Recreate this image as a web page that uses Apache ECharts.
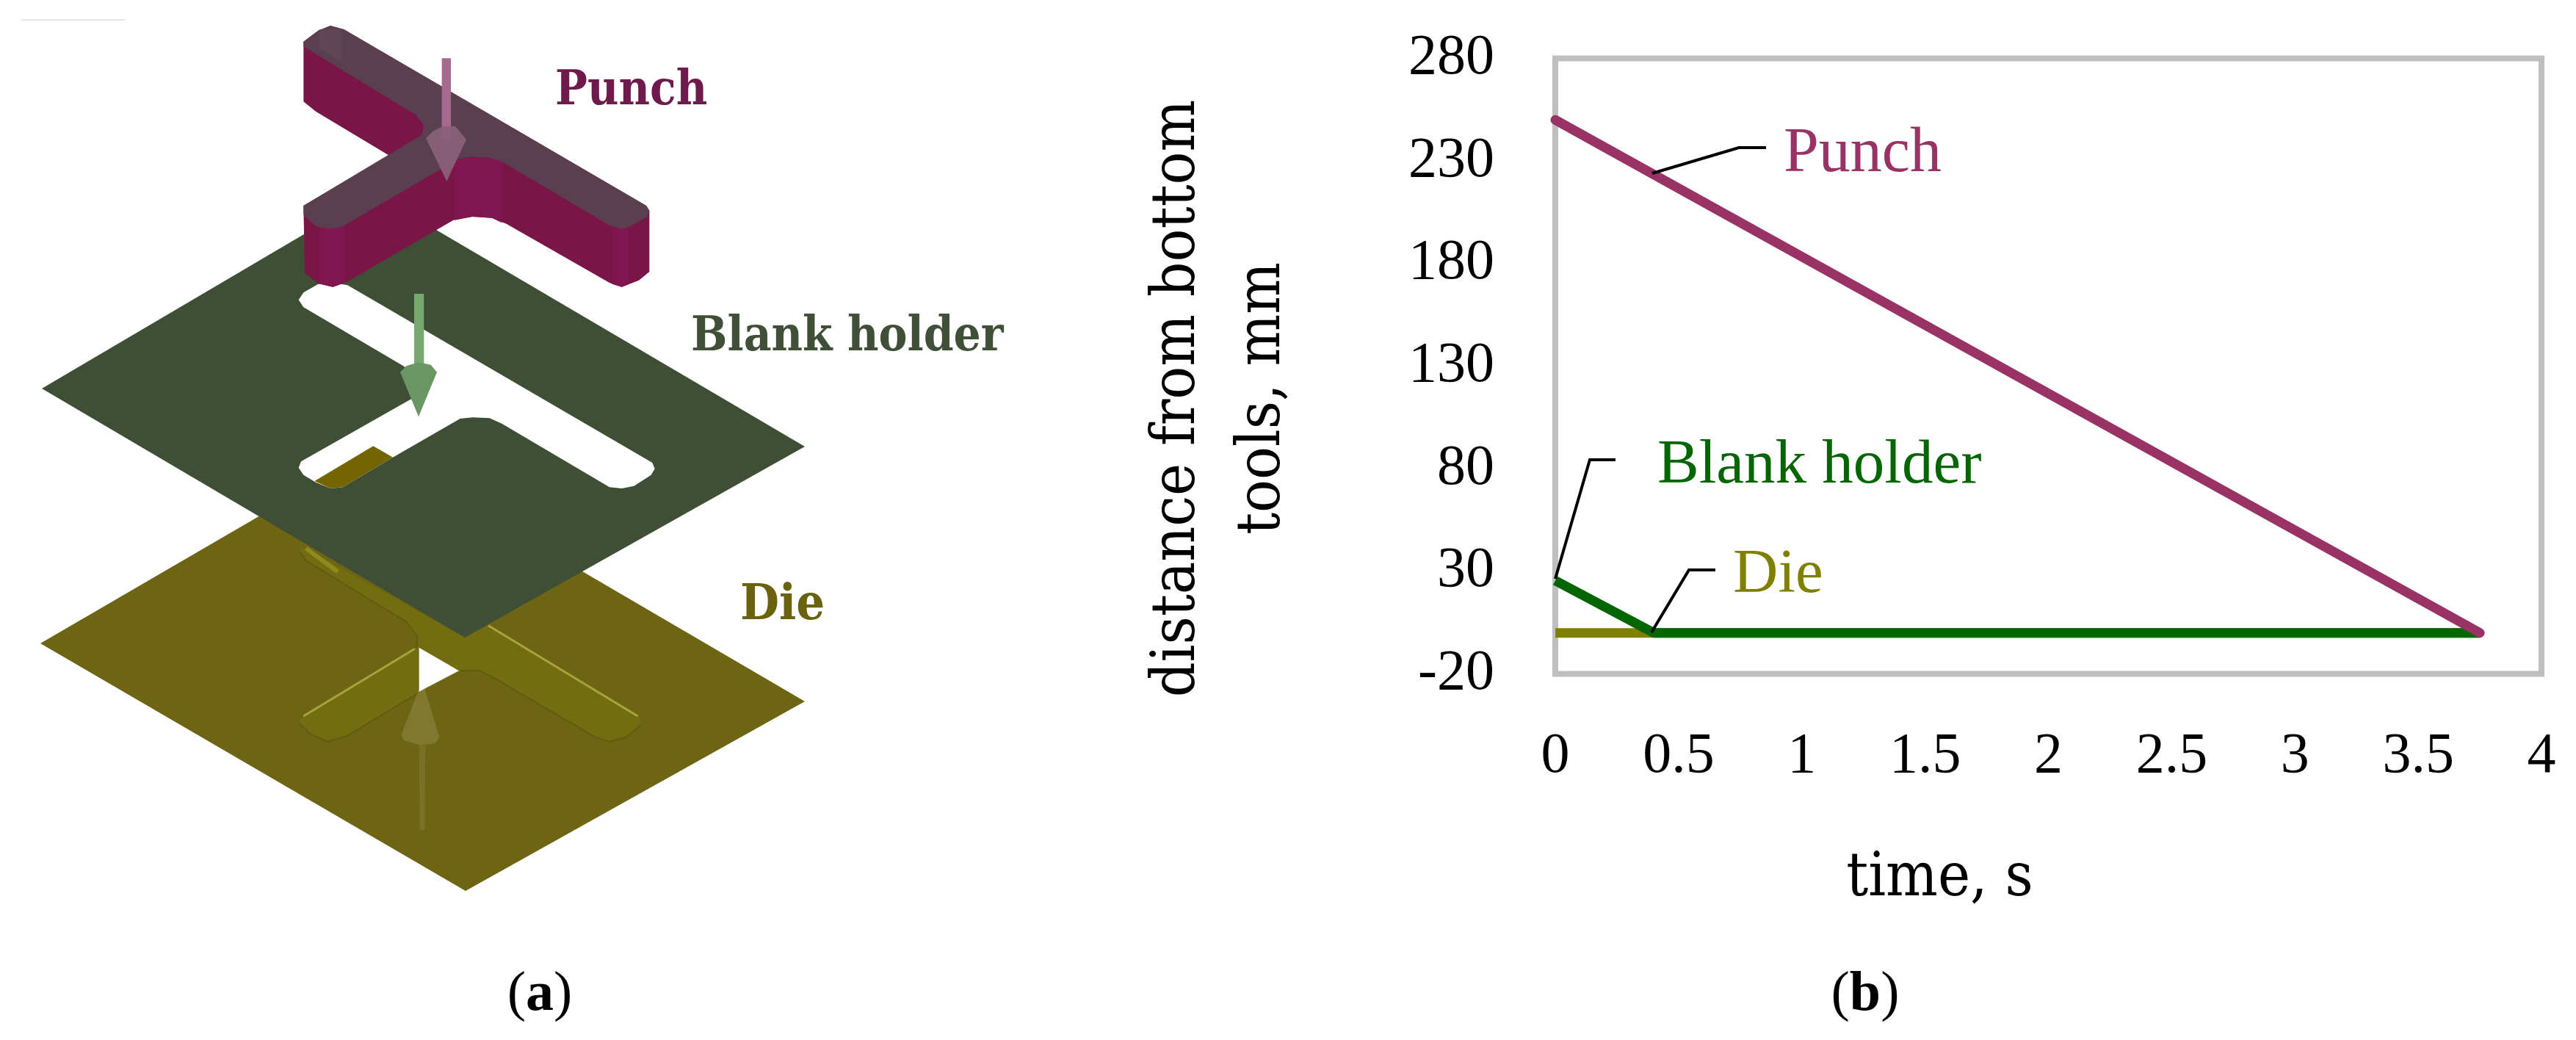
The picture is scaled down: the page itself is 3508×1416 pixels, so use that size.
<!DOCTYPE html>
<html>
<head>
<meta charset="utf-8">
<title>Punch, blank holder and die</title>
<script src="https://cdn.jsdelivr.net/npm/echarts@6/dist/echarts.min.js"></script>
<style>
  html, body { margin: 0; padding: 0; background: #fff; }
  #chart { width: 3508px; height: 1416px; }
</style>
</head>
<body>
<div id="chart"></div>
<script>
// values
const punchTime = [0, 3.75]
const punchDist = [250, 0]
const blankTime = [0, 0.4, 3.75]
const blankDist = [25.5, 0, 0]
const dieTime = [0, 3.75]
const dieDist = [0, 0]
const yTicks = [-20, 30, 80, 130, 180, 230, 280]
const xTicks = [0, 0.5, 1, 1.5, 2, 2.5, 3, 3.5, 4]

const PUNCH = '#993366'
const BLANK = '#036603'
const DIE = '#808000'
const SERIF = '"Liberation Serif", serif'
const WIDE = '"DejaVu Serif Condensed", "DejaVu Serif", serif'

const pairs = (xs, ys) => xs.map((x, i) => [x, ys[i]])

// crop-space points (3x zoom) back to page pixels
const crop = (ox, oy, pts) => pts.map((p) => [ox + p[0] / 3, oy + p[1] / 3])

const poly = (points, fill, opacity) => ({
  type: 'polygon',
  silent: true,
  shape: { points },
  style: { fill, opacity: opacity === undefined ? 1 : opacity }
})

const stroke = (points, color, width, opacity) => ({
  type: 'polyline',
  silent: true,
  shape: { points },
  style: { stroke: color, lineWidth: width, fill: 'none', opacity: opacity === undefined ? 1 : opacity }
})

const label = (text, x, y, size, color, font, weight) => ({
  type: 'text',
  silent: true,
  x,
  y,
  style: {
    text,
    fill: color,
    fontSize: size,
    fontFamily: font,
    fontWeight: weight || 'normal',
    align: 'left',
    verticalAlign: 'middle'
  }
})

// (a) / (b) captions, the letter is bold
const caption = (letter, x) => ({
  type: 'text',
  silent: true,
  x,
  y: 1355,
  style: {
    text: '{r|(}{b|' + letter + '}{r|)}',
    align: 'center',
    verticalAlign: 'middle',
    rich: {
      r: { fontFamily: SERIF, fontSize: 76, fill: '#000' },
      b: { fontFamily: SERIF, fontSize: 76, fontWeight: 'bold', fill: '#000' }
    }
  }
})

// panel (a): the 3D sketch of the tools
const die = [
  poly([[55, 876], [509, 612], [1096, 955], [634, 1213]], '#6e6514'),
  poly(crop(380, 700, [[90, 130], [760, 505], [850, 455], [1470, 820], [1480, 860], [1420, 910], [1350, 930], [1290, 910], [880, 670], [820, 640], [740, 640], [570, 730], [280, 905], [200, 930], [130, 900], [80, 850], [100, 820], [560, 550], [565, 500], [520, 440], [110, 190], [85, 155]]), '#736d12'),
  stroke(crop(380, 700, [[85, 155], [110, 190], [520, 440], [565, 500], [562, 545]]), '#625a10', 2),
  stroke(crop(380, 700, [[80, 850], [130, 900], [200, 930], [280, 905], [570, 730]]), '#625a10', 2),
  stroke(crop(380, 700, [[740, 640], [820, 640], [880, 670], [1290, 910], [1350, 930], [1420, 910], [1480, 860]]), '#625a10', 2),
  stroke(crop(380, 700, [[100, 825], [555, 550]]), '#a8a33c', 3),
  stroke(crop(380, 700, [[855, 455], [1465, 825]]), '#a8a33c', 3),
  stroke(crop(380, 700, [[110, 140], [240, 235]]), '#8d8a1e', 6),
  poly(crop(380, 700, [[585, 680], [655, 910], [640, 935], [580, 945], [510, 925], [500, 900]]), '#8a8640', 0.6),
  poly(crop(380, 700, [[572, 945], [598, 945], [595, 1290], [575, 1290]]), '#8a8640', 0.4),
  poly(crop(380, 700, [[572, 545], [735, 640], [600, 710], [572, 725]]), '#ffffff')
]

const blank = [
  poly([[57, 529], [509, 263], [1096, 608], [633, 868]], '#3f4f36'),
  poly(crop(390, 380, [[50, 85], [70, 55], [130, 20], [190, 15], [250, 25], [1495, 750], [1505, 775], [1490, 800], [1420, 845], [1370, 855], [1320, 850], [880, 590], [830, 568], [760, 565], [710, 570], [435, 728], [230, 850], [180, 855], [120, 830], [70, 800], [50, 770], [60, 745], [510, 490], [535, 430], [510, 375], [470, 350], [70, 115]]), '#ffffff'),
  poly(crop(390, 380, [[115, 825], [355, 682], [435, 728], [230, 850], [180, 855]]), '#746500'),
  poly(crop(390, 380, [[522, 60], [562, 60], [562, 360], [522, 360]]), '#76a870'),
  poly(crop(390, 380, [[465, 380], [490, 355], [540, 340], [590, 350], [615, 380], [540, 562]]), '#6a9663')
]

const punch = [
  poly(crop(390, 20, [[70, 110], [130, 65], [180, 45], [235, 60], [1470, 780], [1483, 800], [1483, 1050], [1440, 1085], [1370, 1112], [1320, 1095], [900, 855], [840, 830], [760, 825], [690, 835], [620, 875], [250, 1090], [190, 1112], [130, 1098], [75, 1055], [70, 780], [420, 575], [120, 395], [70, 355]]), '#7a1548'),
  poly(crop(390, 20, [[685, 600], [760, 580], [830, 585], [880, 600], [880, 850], [840, 830], [760, 825], [685, 840]]), '#801650'),
  poly(crop(390, 20, [[130, 860], [180, 875], [240, 860], [240, 1095], [190, 1112], [130, 1098]]), '#801650'),
  poly(crop(390, 20, [[1330, 860], [1370, 875], [1400, 868], [1400, 1100], [1370, 1112], [1330, 1100]]), '#801650'),
  poly(crop(390, 20, [[70, 110], [130, 65], [180, 45], [235, 60], [1470, 780], [1483, 800], [1475, 825], [1400, 868], [1370, 875], [1320, 860], [880, 600], [830, 585], [760, 580], [700, 590], [230, 865], [180, 875], [120, 865], [70, 815], [70, 780], [555, 490], [560, 450], [530, 410], [70, 130]]), '#5a3f4e'),
  poly(crop(390, 20, [[135, 60], [225, 60], [225, 190], [135, 140]]), '#604556'),
  poly(crop(390, 20, [[635, 178], [672, 178], [672, 510], [635, 510]]), '#a76a8f'),
  poly(crop(390, 20, [[570, 505], [600, 475], [640, 455], [690, 455], [735, 510], [655, 680]]), '#8a6079', 0.95)
]

const chart = echarts.init(document.getElementById('chart'), null, { renderer: 'canvas' })

chart.setOption({
  animation: false,
  backgroundColor: '#ffffff',
  grid: {
    left: 2118,
    top: 79.5,
    width: 1343,
    height: 838,
    show: true,
    backgroundColor: '#ffffff',
    borderColor: '#bfbfbf',
    borderWidth: 8
  },
  xAxis: {
    type: 'value',
    min: 0,
    max: 4,
    interval: 0.5,
    name: 'time, s',
    nameLocation: 'middle',
    nameGap: 238,
    nameTextStyle: { fontFamily: WIDE, fontSize: 83, color: '#000', padding: [0, 296, 0, 0] },
    axisLine: { show: false },
    axisTick: { show: false },
    splitLine: { show: false },
    axisLabel: {
      margin: 74,
      fontFamily: SERIF,
      fontSize: 78,
      color: '#000',
      hideOverlap: false,
      showMinLabel: true,
      showMaxLabel: true,
      customValues: xTicks
    }
  },
  yAxis: {
    type: 'value',
    min: -20,
    max: 280,
    name: 'distance from bottom\ntools, mm',
    nameLocation: 'middle',
    nameGap: 340,
    nameTextStyle: { fontFamily: WIDE, fontSize: 83, color: '#000', lineHeight: 116, padding: [0, 88, 0, 0] },
    axisLine: { show: false },
    axisTick: { show: false },
    splitLine: { show: false },
    axisLabel: {
      margin: 83,
      fontFamily: SERIF,
      fontSize: 78,
      color: '#000',
      showMinLabel: true,
      showMaxLabel: true,
      customValues: yTicks
    }
  },
  series: [
    {
      name: 'Die',
      type: 'line',
      data: pairs(dieTime, dieDist),
      showSymbol: false,
      lineStyle: { color: DIE, width: 13, cap: 'butt' },
      z: 2
    },
    {
      name: 'Blank holder',
      type: 'line',
      data: pairs(blankTime, blankDist),
      showSymbol: false,
      lineStyle: { color: BLANK, width: 13, cap: 'butt', join: 'round' },
      z: 3
    },
    {
      name: 'Punch',
      type: 'line',
      data: pairs(punchTime, punchDist),
      showSymbol: false,
      lineStyle: { color: PUNCH, width: 13, cap: 'round' },
      z: 4
    }
  ],
  graphic: {
    elements: [
      ...die,
      ...blank,
      ...punch,
      stroke([[29, 27], [170, 27]], '#e6e6e6', 2),
      label('Punch', 756, 125, 65, '#6f1a4c', WIDE, 'bold'),
      label('Blank holder', 941, 460, 65, '#3f4f38', WIDE, 'bold'),
      label('Die', 1008, 825, 68, '#6b6210', WIDE, 'bold'),
      // leader lines and curve names in panel (b)
      { ...stroke([[2250, 236], [2368, 201], [2405, 201]], '#000', 4), z: 10 },
      { ...stroke([[2118, 788], [2165, 626], [2200, 626]], '#000', 4), z: 10 },
      { ...stroke([[2249, 861], [2300, 776], [2336, 776]], '#000', 4), z: 10 },
      label('Punch', 2429, 210, 86, PUNCH, SERIF),
      label('Blank holder', 2257, 635, 85, BLANK, SERIF),
      label('Die', 2360, 784, 85, DIE, SERIF),
      caption('a', 735),
      caption('b', 2540)
    ]
  }
})
</script>
</body>
</html>
